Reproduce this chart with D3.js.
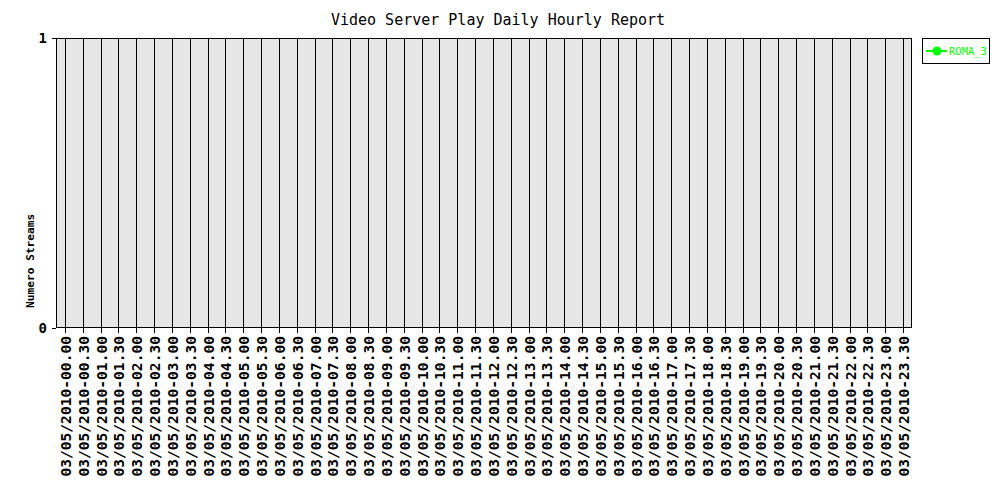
<!DOCTYPE html>
<html><head><meta charset="utf-8">
<script src="https://cdn.jsdelivr.net/npm/d3@7"></script>
<style>body{margin:0;background:#fff}svg{display:block}</style>
</head><body>
<svg id="c" width="1000" height="500"></svg>
<script>
const title = "Video Server Play Daily Hourly Report";
const yLabel = "Numero Streams";
const seriesName = "ROMA_3";
const categories = [
"03/05/2010-00.00","03/05/2010-00.30","03/05/2010-01.00","03/05/2010-01.30",
"03/05/2010-02.00","03/05/2010-02.30","03/05/2010-03.00","03/05/2010-03.30",
"03/05/2010-04.00","03/05/2010-04.30","03/05/2010-05.00","03/05/2010-05.30",
"03/05/2010-06.00","03/05/2010-06.30","03/05/2010-07.00","03/05/2010-07.30",
"03/05/2010-08.00","03/05/2010-08.30","03/05/2010-09.00","03/05/2010-09.30",
"03/05/2010-10.00","03/05/2010-10.30","03/05/2010-11.00","03/05/2010-11.30",
"03/05/2010-12.00","03/05/2010-12.30","03/05/2010-13.00","03/05/2010-13.30",
"03/05/2010-14.00","03/05/2010-14.30","03/05/2010-15.00","03/05/2010-15.30",
"03/05/2010-16.00","03/05/2010-16.30","03/05/2010-17.00","03/05/2010-17.30",
"03/05/2010-18.00","03/05/2010-18.30","03/05/2010-19.00","03/05/2010-19.30",
"03/05/2010-20.00","03/05/2010-20.30","03/05/2010-21.00","03/05/2010-21.30",
"03/05/2010-22.00","03/05/2010-22.30","03/05/2010-23.00","03/05/2010-23.30"];
// no data points recorded for ROMA_3 in this report
const roma3 = [
null,null,null,null,null,null,null,null,null,null,null,null,
null,null,null,null,null,null,null,null,null,null,null,null,
null,null,null,null,null,null,null,null,null,null,null,null,
null,null,null,null,null,null,null,null,null,null,null,null];
const yTicks = [0, 1];

const L = 56, R = 912, T = 38, B = 328;
const mono = "'DejaVu Sans Mono', monospace";
const green = "#00ff00";
const svg = d3.select("#c");

const x = d3.scaleBand().domain(categories).range([L, R]);
const xc = c => Math.round(x(c) + x.bandwidth() / 2) + 0.5;
const y = d3.scaleLinear().domain([0, 1]).range([B, T]);

// plot background
svg.append("rect").attr("x", L).attr("y", T).attr("width", R - L).attr("height", B - T)
  .attr("fill", "#e6e6e6");

// vertical grid lines
svg.append("g").selectAll("line").data(categories).join("line")
  .attr("x1", xc).attr("x2", xc).attr("y1", T).attr("y2", B)
  .attr("stroke", "#000").attr("stroke-width", 1);

// frame
svg.append("rect").attr("x", L + 0.5).attr("y", T + 0.5).attr("width", R - L - 1).attr("height", B - T - 1)
  .attr("fill", "none").attr("stroke", "#000").attr("stroke-width", 1);

// x axis ticks and labels
const xa = svg.append("g");
xa.selectAll("line").data(categories).join("line")
  .attr("x1", xc).attr("x2", xc).attr("y1", B).attr("y2", B + 5)
  .attr("stroke", "#000");
xa.selectAll("text").data(categories).join("text")
  .attr("transform", d => `translate(${xc(d) + 0.5},336) rotate(-90)`)
  .attr("text-anchor", "end").attr("dy", "0.36em")
  .attr("font-family", mono).attr("font-size", 14.6).attr("font-weight", "bold")
  .attr("fill", "#000").text(d => d);

// y axis ticks and labels
const ya = svg.append("g");
ya.selectAll("line").data(yTicks).join("line")
  .attr("x1", L - 4).attr("x2", L).attr("y1", d => Math.round(y(d)) + 0.5).attr("y2", d => Math.round(y(d)) + 0.5)
  .attr("stroke", "#000");
ya.selectAll("text").data(yTicks).join("text")
  .attr("x", 47).attr("y", d => y(d)).attr("dy", "0.36em")
  .attr("text-anchor", "end").attr("font-family", mono).attr("font-size", 14).attr("font-weight", "bold")
  .attr("fill", "#000").text(d => d);

// y label
svg.append("text").attr("transform", "translate(34,308) rotate(-90)")
  .attr("font-family", mono).attr("font-size", 11.2).attr("font-weight", "bold")
  .attr("fill", "#000").text(yLabel);

// title
svg.append("text").attr("x", 498).attr("y", 25).attr("text-anchor", "middle")
  .attr("font-family", mono).attr("font-size", 15).attr("fill", "#000").text(title);

// series line (no defined points)
const line = d3.line().defined(d => d.v != null).x(d => xc(d.c)).y(d => y(d.v));
const pts = categories.map((c, i) => ({c, v: roma3[i]}));
svg.append("path").datum(pts).attr("d", line).attr("fill", "none").attr("stroke", green).attr("stroke-width", 2);
svg.append("g").selectAll("circle").data(pts.filter(d => d.v != null)).join("circle")
  .attr("cx", d => xc(d.c)).attr("cy", d => y(d.v)).attr("r", 4).attr("fill", green);

// legend
const lg = svg.append("g");
lg.append("rect").attr("x", 922.5).attr("y", 38.5).attr("width", 67).attr("height", 25)
  .attr("fill", "#fff").attr("stroke", "#000");
lg.append("line").attr("x1", 926).attr("x2", 947).attr("y1", 51).attr("y2", 51)
  .attr("stroke", green).attr("stroke-width", 2);
lg.append("circle").attr("cx", 937).attr("cy", 51).attr("r", 4.5).attr("fill", green);
lg.append("text").attr("x", 949).attr("y", 51).attr("dy", "0.36em")
  .attr("font-family", mono).attr("font-size", 10.5).attr("fill", green).text(seriesName);
</script>
</body></html>
